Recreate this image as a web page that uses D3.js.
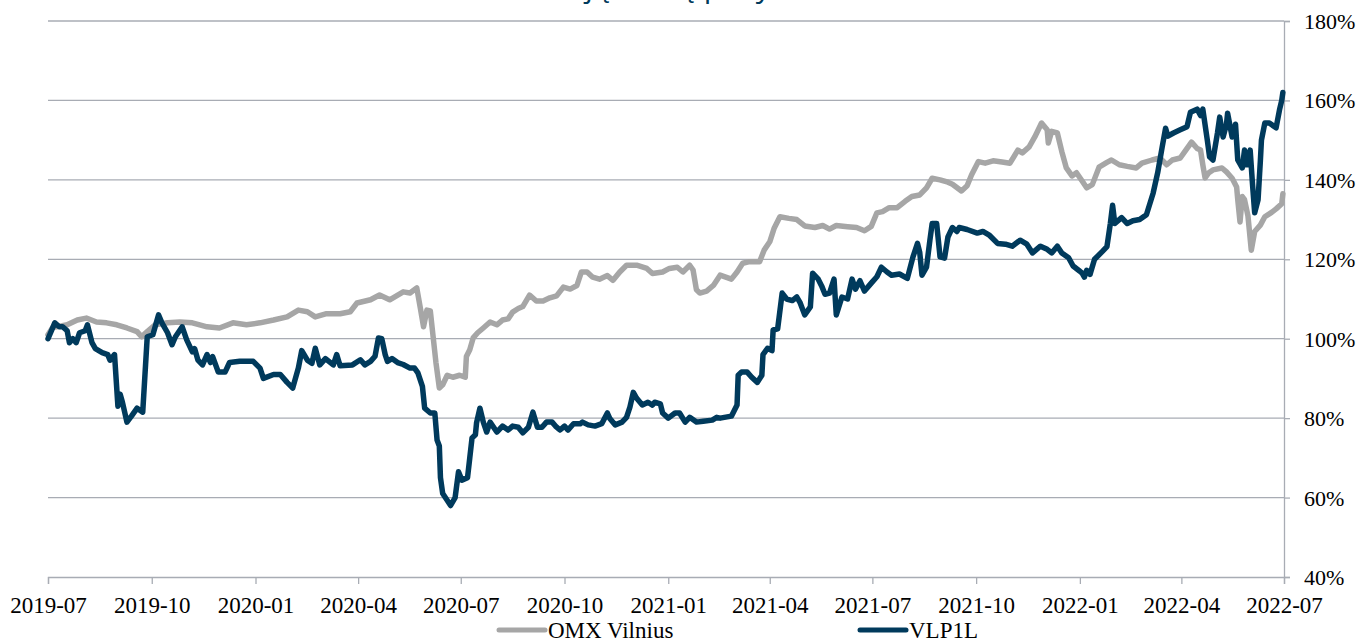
<!DOCTYPE html>
<html>
<head>
<meta charset="utf-8">
<script src="https://cdn.jsdelivr.net/npm/d3@7"></script>
<style>
  html, body { margin: 0; padding: 0; background: #fff; overflow: hidden; }
  svg { display: block; }
  svg text { font-family: 'Liberation Serif', 'Times New Roman', serif; }
</style>
</head>
<body>
<div id="chart"></div>
<script>
// series values, [date, % of start]
const omxVilnius = [
  ['2019-07-01', 101], ['2019-07-05', 102.8], ['2019-07-18', 103.5], ['2019-07-27', 104.7],
  ['2019-08-04', 105.2], ['2019-08-13', 104.2], ['2019-08-22', 104], ['2019-08-31', 103.5],
  ['2019-09-09', 102.7], ['2019-09-18', 101.8], ['2019-09-22', 100.5], ['2019-09-27', 101.8],
  ['2019-10-04', 103.5], ['2019-10-15', 104], ['2019-10-26', 104.2], ['2019-11-06', 104],
  ['2019-11-19', 103], ['2019-11-30', 102.7], ['2019-12-12', 104], ['2019-12-24', 103.5],
  ['2020-01-05', 104], ['2020-01-17', 104.7], ['2020-01-29', 105.5], ['2020-02-08', 107.2],
  ['2020-02-16', 106.8], ['2020-02-23', 105.5], ['2020-03-04', 106.3], ['2020-03-16', 106.3],
  ['2020-03-25', 106.8], ['2020-03-31', 109], ['2020-04-12', 109.8], ['2020-04-20', 111],
  ['2020-04-29', 109.8], ['2020-05-11', 111.8], ['2020-05-17', 111.5], ['2020-05-23', 112.8],
  ['2020-05-26', 108], ['2020-05-29', 103], ['2020-06-01', 107.2], ['2020-06-04', 107],
  ['2020-06-06', 101.8], ['2020-06-09', 94], ['2020-06-12', 87.6], ['2020-06-15', 88.4],
  ['2020-06-19', 90.8], ['2020-06-24', 90.3], ['2020-06-30', 90.8], ['2020-07-05', 90.3],
  ['2020-07-06', 95.5], ['2020-07-09', 97.2], ['2020-07-12', 100.2], ['2020-07-16', 101.5],
  ['2020-07-21', 102.7], ['2020-07-27', 104.2], ['2020-08-02', 103.5], ['2020-08-07', 104.7],
  ['2020-08-12', 105], ['2020-08-16', 106.7], ['2020-08-21', 107.6], ['2020-08-25', 108.1],
  ['2020-08-31', 111], ['2020-09-06', 109.5], ['2020-09-12', 109.5], ['2020-09-18', 110.3],
  ['2020-09-24', 110.8], ['2020-09-30', 113], ['2020-10-06', 112.5], ['2020-10-12', 113.4],
  ['2020-10-16', 116.8], ['2020-10-21', 116.8], ['2020-10-26', 115.5], ['2020-11-01', 115],
  ['2020-11-08', 115.9], ['2020-11-13', 114.7], ['2020-11-19', 116.8], ['2020-11-25', 118.5],
  ['2020-12-04', 118.5], ['2020-12-13', 117.7], ['2020-12-18', 116.4], ['2020-12-27', 116.8],
  ['2021-01-02', 117.7], ['2021-01-09', 118], ['2021-01-14', 116.8], ['2021-01-20', 118.5],
  ['2021-01-23', 117.3], ['2021-01-26', 112.3], ['2021-01-29', 111.5], ['2021-02-04', 112],
  ['2021-02-10', 113.4], ['2021-02-16', 116], ['2021-02-26', 115], ['2021-03-03', 116.8],
  ['2021-03-08', 119], ['2021-03-14', 119.4], ['2021-03-23', 119.4], ['2021-03-27', 122.3],
  ['2021-04-01', 124.4], ['2021-04-05', 127.9], ['2021-04-10', 130.7], ['2021-04-18', 130.3],
  ['2021-04-25', 130], ['2021-05-02', 128.4], ['2021-05-11', 128], ['2021-05-18', 128.5],
  ['2021-05-24', 127.6], ['2021-05-30', 128.5], ['2021-06-09', 128.2], ['2021-06-17', 128],
  ['2021-06-24', 127.2], ['2021-06-30', 128.3], ['2021-07-05', 131.7], ['2021-07-10', 132],
  ['2021-07-16', 133], ['2021-07-23', 133], ['2021-07-30', 134.6], ['2021-08-05', 135.8],
  ['2021-08-12', 136.2], ['2021-08-18', 138], ['2021-08-23', 140.4], ['2021-08-30', 140],
  ['2021-09-06', 139.4], ['2021-09-10', 138.9], ['2021-09-18', 137.2], ['2021-09-23', 138.5],
  ['2021-09-27', 141.3], ['2021-10-03', 144.6], ['2021-10-09', 144.2], ['2021-10-16', 144.8],
  ['2021-10-24', 144.5], ['2021-10-31', 144.2], ['2021-11-07', 147.5], ['2021-11-11', 146.8],
  ['2021-11-17', 148.3], ['2021-11-22', 150.8], ['2021-11-28', 154.3], ['2021-12-03', 152.6],
  ['2021-12-04', 149.3], ['2021-12-07', 152.2], ['2021-12-12', 151.8], ['2021-12-16', 147.1],
  ['2021-12-20', 143], ['2021-12-25', 141], ['2021-12-29', 141.8], ['2022-01-03', 139.7],
  ['2022-01-07', 138], ['2022-01-12', 138.8], ['2022-01-18', 143.2], ['2022-01-25', 144.4],
  ['2022-01-29', 145], ['2022-02-05', 143.8], ['2022-02-12', 143.4], ['2022-02-20', 143],
  ['2022-02-25', 144.2], ['2022-03-06', 145], ['2022-03-13', 145.5], ['2022-03-19', 143.8],
  ['2022-03-24', 145], ['2022-03-31', 145.5], ['2022-04-04', 147.1], ['2022-04-10', 149.5],
  ['2022-04-15', 147.9], ['2022-04-18', 147.5], ['2022-04-20', 143.8], ['2022-04-22', 140.5],
  ['2022-04-25', 141.7], ['2022-04-29', 142.5], ['2022-05-07', 143], ['2022-05-11', 142],
  ['2022-05-16', 140.4], ['2022-05-20', 138.2], ['2022-05-21', 135], ['2022-05-23', 129.4],
  ['2022-05-25', 135.8], ['2022-05-27', 135], ['2022-05-30', 131], ['2022-06-02', 122.3],
  ['2022-06-05', 127], ['2022-06-10', 128.6], ['2022-06-14', 130.7], ['2022-06-20', 131.8],
  ['2022-06-24', 132.7], ['2022-06-29', 134], ['2022-06-30', 136.5],
];

const vlp1l = [
  ['2019-07-01', 100], ['2019-07-07', 104], ['2019-07-11', 103], ['2019-07-14', 103],
  ['2019-07-18', 102], ['2019-07-20', 99], ['2019-07-23', 100], ['2019-07-26', 99],
  ['2019-07-29', 101.5], ['2019-08-03', 102], ['2019-08-05', 103.5], ['2019-08-09', 99],
  ['2019-08-12', 97.5], ['2019-08-18', 96.5], ['2019-08-23', 96], ['2019-08-25', 94.6],
  ['2019-08-29', 96], ['2019-09-01', 83], ['2019-09-03', 86], ['2019-09-05', 84],
  ['2019-09-09', 79], ['2019-09-13', 80.5], ['2019-09-18', 82.5], ['2019-09-23', 81.5],
  ['2019-09-27', 100.5], ['2019-10-02', 101], ['2019-10-07', 106], ['2019-10-10', 104],
  ['2019-10-15', 101.5], ['2019-10-19', 98.5], ['2019-10-22', 100.5], ['2019-10-28', 103],
  ['2019-11-01', 99.7], ['2019-11-06', 96.7], ['2019-11-08', 97.5], ['2019-11-11', 94.6],
  ['2019-11-15', 93.4], ['2019-11-19', 96], ['2019-11-22', 94], ['2019-11-24', 95.5],
  ['2019-11-29', 91.6], ['2019-12-05', 91.6], ['2019-12-09', 94], ['2019-12-18', 94.3],
  ['2019-12-30', 94.3], ['2020-01-05', 92.6], ['2020-01-08', 90], ['2020-01-17', 91],
  ['2020-01-23', 91], ['2020-01-29', 89], ['2020-02-03', 87.6], ['2020-02-08', 92.6],
  ['2020-02-11', 97], ['2020-02-16', 94.6], ['2020-02-20', 93.8], ['2020-02-23', 97.6],
  ['2020-02-27', 93.4], ['2020-03-03', 95], ['2020-03-10', 93.4], ['2020-03-13', 96],
  ['2020-03-16', 93.2], ['2020-03-27', 93.4], ['2020-04-03', 94.7], ['2020-04-07', 93.4],
  ['2020-04-12', 94.3], ['2020-04-16', 95.6], ['2020-04-19', 100.2], ['2020-04-22', 100],
  ['2020-04-25', 96], ['2020-04-27', 94.3], ['2020-05-01', 95], ['2020-05-06', 94],
  ['2020-05-11', 93.5], ['2020-05-17', 92.6], ['2020-05-21', 92.6], ['2020-05-24', 91.4],
  ['2020-05-28', 88], ['2020-05-30', 82.5], ['2020-06-04', 81.3], ['2020-06-08', 81.3],
  ['2020-06-10', 74.5], ['2020-06-12', 73], ['2020-06-13', 65], ['2020-06-15', 61],
  ['2020-06-22', 58], ['2020-06-26', 60], ['2020-06-29', 66.5], ['2020-07-02', 64.4],
  ['2020-07-07', 65], ['2020-07-09', 70], ['2020-07-11', 75], ['2020-07-14', 75.8],
  ['2020-07-15', 78.8], ['2020-07-18', 82.5], ['2020-07-21', 79], ['2020-07-24', 76.5],
  ['2020-07-27', 79], ['2020-08-02', 76.5], ['2020-08-07', 78], ['2020-08-12', 77],
  ['2020-08-16', 78], ['2020-08-21', 77.7], ['2020-08-25', 76.3], ['2020-08-30', 77.7],
  ['2020-09-03', 81.5], ['2020-09-07', 77.7], ['2020-09-11', 77.7], ['2020-09-15', 79],
  ['2020-09-20', 79], ['2020-09-23', 78], ['2020-09-27', 77], ['2020-10-01', 78],
  ['2020-10-04', 77], ['2020-10-09', 78.6], ['2020-10-15', 78.6], ['2020-10-17', 79],
  ['2020-10-22', 78.3], ['2020-10-28', 78], ['2020-11-03', 78.6], ['2020-11-08', 81.3],
  ['2020-11-10', 80], ['2020-11-15', 78.3], ['2020-11-21', 79], ['2020-11-25', 80.2],
  ['2020-11-28', 82.8], ['2020-12-01', 86.5], ['2020-12-04', 85], ['2020-12-09', 83.3],
  ['2020-12-14', 84], ['2020-12-18', 83.3], ['2020-12-20', 84], ['2020-12-25', 83.6],
  ['2020-12-27', 81.3], ['2021-01-01', 80], ['2021-01-07', 81.3], ['2021-01-11', 81.3],
  ['2021-01-16', 79], ['2021-01-20', 80.2], ['2021-01-26', 79], ['2021-02-01', 79.2],
  ['2021-02-09', 79.5], ['2021-02-13', 80.2], ['2021-02-16', 80], ['2021-02-26', 80.5],
  ['2021-03-03', 83.3], ['2021-03-04', 90.8], ['2021-03-07', 91.6], ['2021-03-12', 91.6],
  ['2021-03-16', 90.3], ['2021-03-21', 89], ['2021-03-25', 90.8], ['2021-03-26', 96],
  ['2021-03-30', 97.6], ['2021-04-03', 97], ['2021-04-04', 102.2], ['2021-04-08', 102.5],
  ['2021-04-12', 111.5], ['2021-04-16', 110], ['2021-04-21', 109.6], ['2021-04-25', 110.5],
  ['2021-04-28', 109], ['2021-05-02', 106], ['2021-05-07', 108], ['2021-05-09', 116.5],
  ['2021-05-14', 115], ['2021-05-17', 113.3], ['2021-05-20', 111.2], ['2021-05-24', 111.5],
  ['2021-05-28', 115], ['2021-05-30', 106], ['2021-06-04', 110.5], ['2021-06-09', 110],
  ['2021-06-13', 115], ['2021-06-16', 112.5], ['2021-06-20', 114.6], ['2021-06-24', 112],
  ['2021-06-30', 114], ['2021-07-05', 115.6], ['2021-07-09', 118], ['2021-07-14', 116.8],
  ['2021-07-18', 116], ['2021-07-25', 116.3], ['2021-08-01', 115.2], ['2021-08-06', 120.6],
  ['2021-08-10', 124], ['2021-08-12', 121.7], ['2021-08-14', 116], ['2021-08-18', 118],
  ['2021-08-21', 124.8], ['2021-08-23', 129], ['2021-08-27', 129], ['2021-08-30', 120.6],
  ['2021-09-03', 120.3], ['2021-09-06', 125.6], ['2021-09-10', 128], ['2021-09-14', 127],
  ['2021-09-16', 128], ['2021-09-23', 127.5], ['2021-10-02', 126.6], ['2021-10-07', 127],
  ['2021-10-13', 126], ['2021-10-20', 124], ['2021-10-27', 123.8], ['2021-11-02', 123.3],
  ['2021-11-09', 124.8], ['2021-11-15', 123.8], ['2021-11-20', 121.6], ['2021-11-27', 123.3],
  ['2021-12-03', 122.5], ['2021-12-07', 121.6], ['2021-12-12', 123.3], ['2021-12-16', 121.6],
  ['2021-12-22', 120.4], ['2021-12-26', 118.3], ['2022-01-01', 117], ['2022-01-03', 116.5],
  ['2022-01-05', 115.5], ['2022-01-07', 117.2], ['2022-01-10', 116.2], ['2022-01-14', 120],
  ['2022-01-21', 122], ['2022-01-25', 123.2], ['2022-01-28', 129], ['2022-01-30', 133.6],
  ['2022-02-01', 129], ['2022-02-07', 130.5], ['2022-02-12', 129], ['2022-02-17', 129.7],
  ['2022-02-23', 130], ['2022-03-01', 131.2], ['2022-03-07', 136.7], ['2022-03-11', 141.8],
  ['2022-03-15', 148.3], ['2022-03-18', 153], ['2022-03-20', 151], ['2022-03-25', 151.8],
  ['2022-03-31', 152.6], ['2022-04-06', 153.4], ['2022-04-09', 157], ['2022-04-15', 157.8],
  ['2022-04-18', 156.2], ['2022-04-20', 157.8], ['2022-04-24', 150], ['2022-04-26', 145.8],
  ['2022-04-29', 145], ['2022-05-03', 151.8], ['2022-05-05', 155.8], ['2022-05-08', 150.8],
  ['2022-05-11', 154], ['2022-05-12', 156.8], ['2022-05-16', 150.8], ['2022-05-19', 154],
  ['2022-05-21', 145], ['2022-05-25', 143], ['2022-05-27', 147.5], ['2022-05-29', 143.8],
  ['2022-06-01', 147.5], ['2022-06-03', 139.2], ['2022-06-05', 131.7], ['2022-06-08', 135],
  ['2022-06-10', 144.6], ['2022-06-11', 150], ['2022-06-14', 154.3], ['2022-06-18', 154.3],
  ['2022-06-24', 153.1], ['2022-06-27', 157.6], ['2022-06-29', 160], ['2022-06-30', 162],
];

const seriesNames = ['OMX Vilnius', 'VLP1L'];
const yTicks = [40, 60, 80, 100, 120, 140, 160, 180];
const xTickLabels = ['2019-07', '2019-10', '2020-01', '2020-04', '2020-07', '2020-10', '2021-01',
  '2021-04', '2021-07', '2021-10', '2022-01', '2022-04', '2022-07'];
const title = 'Akcijų kainų pokytis';

const width = 1359;
const height = 638;
const margin = ({ top: 21, right: 75, bottom: 61, left: 48 });
const colors = { omx: '#a6a6a6', vlp: '#003a5c', grid: '#a8acb4', text: '#000' };
const font = 'Liberation Serif, Times New Roman, serif';

const parseDate = d3.timeParse('%Y-%m-%d');
const parseMonth = d3.timeParse('%Y-%m');
const toPoints = rows => rows.map(([d, v]) => ({ date: parseDate(d), value: v }));

const x = d3.scaleTime()
  .domain([parseMonth(xTickLabels[0]), parseMonth(xTickLabels[xTickLabels.length - 1])])
  .range([margin.left, width - margin.right]);

const y = d3.scaleLinear()
  .domain([yTicks[0], yTicks[yTicks.length - 1]])
  .range([height - margin.bottom, margin.top]);

const svg = d3.select('#chart').append('svg')
  .attr('width', width)
  .attr('height', height)
  .attr('font-family', font);

// title, cut off by the top edge: only the descenders show
svg.append('text')
  .attr('x', (margin.left + width - margin.right) / 2)
  .attr('y', -3)
  .attr('text-anchor', 'middle')
  .attr('fill', colors.vlp)
  .style('font-family', '"Open Sans", sans-serif')
  .style('font-size', '30px')
  .text(title);

// horizontal grid
svg.append('g')
  .selectAll('line')
  .data(yTicks.slice(1))
  .join('line')
  .attr('x1', margin.left)
  .attr('x2', width - margin.right)
  .attr('y1', d => y(d))
  .attr('y2', d => y(d))
  .attr('stroke', colors.grid)
  .attr('stroke-width', 1.3);

// right y axis
const yAxis = svg.append('g')
  .attr('transform', `translate(${width - margin.right},0)`)
  .call(d3.axisRight(y).tickValues(yTicks).tickFormat(d => `${d}%`).tickSize(6).tickPadding(14));

// bottom x axis
const xAxis = svg.append('g')
  .attr('transform', `translate(0,${height - margin.bottom})`)
  .call(d3.axisBottom(x)
    .tickValues(xTickLabels.map(parseMonth))
    .tickFormat(d3.timeFormat('%Y-%m'))
    .tickSize(7)
    .tickPadding(13));

[yAxis, xAxis].forEach((axis) => {
  axis.attr('font-family', font);
  axis.select('.domain').attr('stroke', colors.grid).attr('stroke-width', 1.3);
  axis.selectAll('.tick line').attr('stroke', colors.grid).attr('stroke-width', 1.3);
  axis.selectAll('.tick text')
    .attr('fill', colors.text)
    .style('font-size', '22px');
});
xAxis.selectAll('.tick text').style('font-size', '23px');
yAxis.selectAll('.tick text').attr('dy', '0.34em');

const line = d3.line()
  .x(d => x(d.date))
  .y(d => y(d.value));

const series = [
  { name: seriesNames[0], color: colors.omx, points: toPoints(omxVilnius) },
  { name: seriesNames[1], color: colors.vlp, points: toPoints(vlp1l) },
];

svg.append('g')
  .attr('fill', 'none')
  .attr('stroke-width', 5.5)
  .attr('stroke-linejoin', 'round')
  .attr('stroke-linecap', 'round')
  .selectAll('path')
  .data(series)
  .join('path')
  .attr('stroke', d => d.color)
  .attr('d', d => line(d.points));

// legend
const legendX = [497, 858];
const legend = svg.append('g')
  .selectAll('g')
  .data(series)
  .join('g')
  .attr('transform', (d, i) => `translate(${legendX[i]},630)`);

legend.append('line')
  .attr('x1', 2)
  .attr('x2', 48)
  .attr('stroke', d => d.color)
  .attr('stroke-width', 5)
  .attr('stroke-linecap', 'round');

legend.append('text')
  .attr('x', 51)
  .attr('y', 8)
  .attr('fill', colors.text)
  .style('font-size', '23px')
  .text(d => d.name);
</script>
</body>
</html>
